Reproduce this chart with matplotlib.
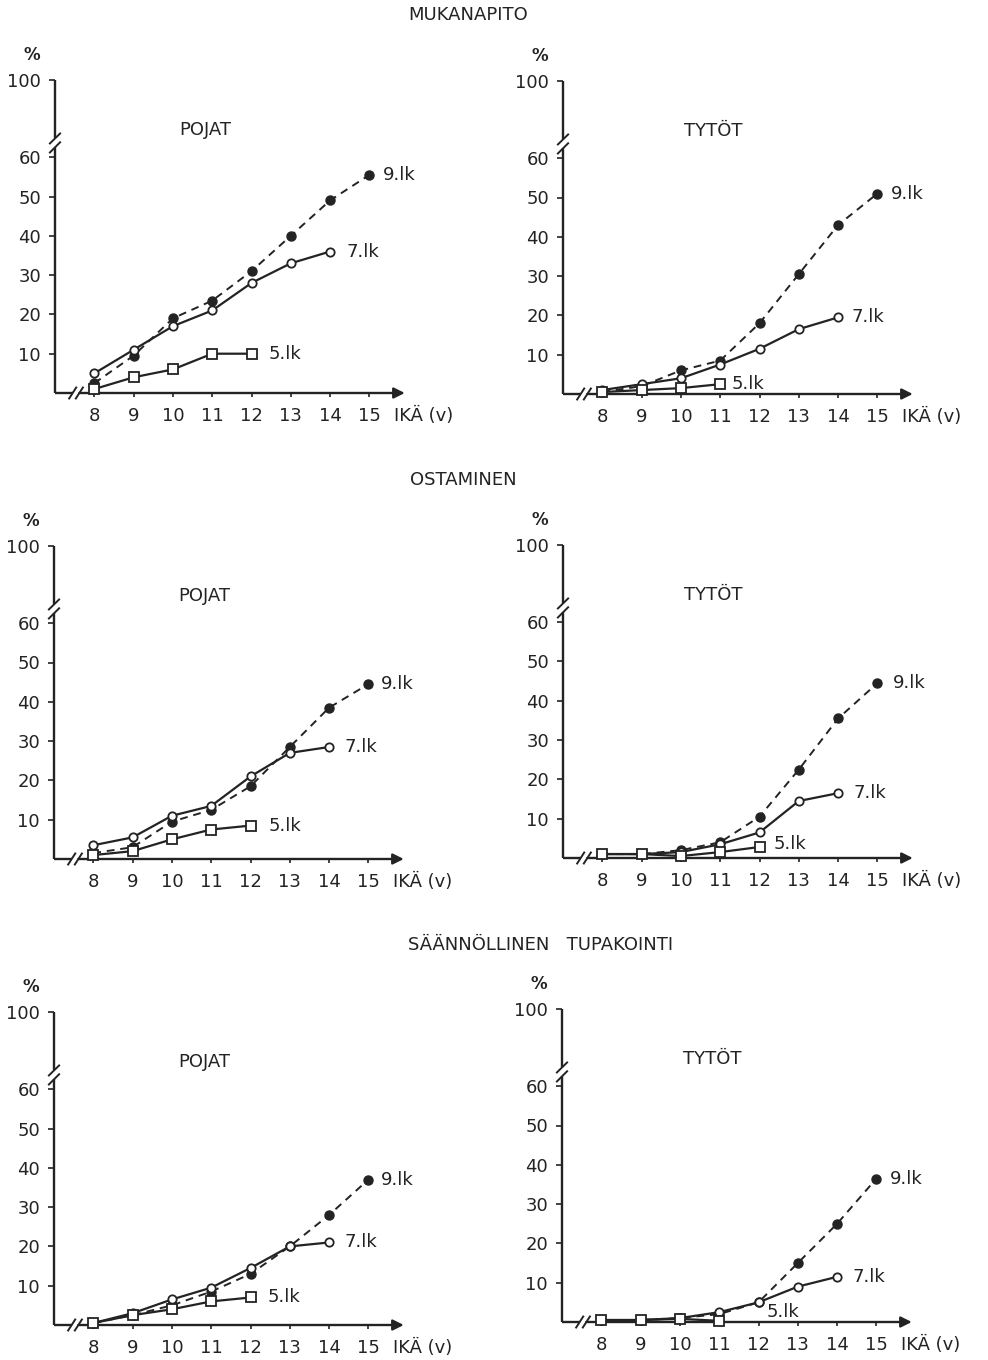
import numpy as np
import matplotlib
matplotlib.use('Agg')
import matplotlib.pyplot as plt

plt.rcParams['font.family'] = ['DejaVu Sans']

# ---------------- data ----------------
ages_9lk = [8, 9, 10, 11, 12, 13, 14, 15]
ages_7lk = [8, 9, 10, 11, 12, 13, 14]
ages_5lk = [8, 9, 10, 11, 12]
ages_5lk_short = [8, 9, 10, 11]

mukanapito_pojat_9 = [2.5, 9.5, 19, 23.5, 31, 40, 49, 55.5]
mukanapito_pojat_7 = [5, 11, 17, 21, 28, 33, 36]
mukanapito_pojat_5 = [1, 4, 6, 10, 10]

mukanapito_tytot_9 = [0.5, 2, 6, 8.5, 18, 30.5, 43, 51]
mukanapito_tytot_7 = [1, 2.5, 4, 7.5, 11.5, 16.5, 19.5]
mukanapito_tytot_5 = [0.5, 1, 1.5, 2.5]

ostaminen_pojat_9 = [1.5, 3, 9.5, 12.5, 18.5, 28.5, 38.5, 44.5]
ostaminen_pojat_7 = [3.5, 5.5, 11, 13.5, 21, 27, 28.5]
ostaminen_pojat_5 = [1, 2, 5, 7.5, 8.5]

ostaminen_tytot_9 = [1, 1, 2, 4, 10.5, 22.5, 35.5, 44.5]
ostaminen_tytot_7 = [1, 1, 1.5, 3.5, 6.5, 14.5, 16.5]
ostaminen_tytot_5 = [1, 1, 0.5, 1.5, 2.8]

tupakointi_pojat_9 = [0.5, 2.5, 5, 8.5, 13, 20, 28, 37]
tupakointi_pojat_7 = [0.5, 3, 6.5, 9.5, 14.5, 20, 21]
tupakointi_pojat_5 = [0.5, 2.5, 4, 6, 7]

tupakointi_tytot_9 = [0.5, 0.5, 1, 2, 5, 15, 25, 36.5]
tupakointi_tytot_7 = [0.5, 0.5, 1, 2.5, 5, 9, 11.5]
tupakointi_tytot_5 = [0.5, 0.5, 0.8, 0.3]

section_titles = ['MUKANAPITO', 'OSTAMINEN', 'SÄÄNNÖLLINEN   TUPAKOINTI']
panel_titles = ['POJAT', 'TYTÖT']
series_labels = ['9.lk', '7.lk', '5.lk']
y_ticks = [10, 20, 30, 40, 50, 60, 100]
y_ticklabels = ['10', '20', '30', '40', '50', '60', '100']
x_ticks = [8, 9, 10, 11, 12, 13, 14, 15]
x_label = 'IKÄ (v)'

panels = [
    [(ages_9lk, mukanapito_pojat_9), (ages_7lk, mukanapito_pojat_7), (ages_5lk, mukanapito_pojat_5)],
    [(ages_9lk, mukanapito_tytot_9), (ages_7lk, mukanapito_tytot_7), (ages_5lk_short, mukanapito_tytot_5)],
    [(ages_9lk, ostaminen_pojat_9), (ages_7lk, ostaminen_pojat_7), (ages_5lk, ostaminen_pojat_5)],
    [(ages_9lk, ostaminen_tytot_9), (ages_7lk, ostaminen_tytot_7), (ages_5lk, ostaminen_tytot_5)],
    [(ages_9lk, tupakointi_pojat_9), (ages_7lk, tupakointi_pojat_7), (ages_5lk, tupakointi_pojat_5)],
    [(ages_9lk, tupakointi_tytot_9), (ages_7lk, tupakointi_tytot_7), (ages_5lk_short, tupakointi_tytot_5)],
]

# ---------------- layout / style ----------------
W, H = 988, 1360
INK = '#232323'
origins = [(55, 393), (563, 394), (54, 859), (563, 858), (54, 1325), (562, 1322)]
PX_X = 39.3      # px per year
PX_Y = 3.93      # px per percent
XL, XR = 7.0, 16.3
BRK, SQ = 66.0, 0.4


def fwd(y):
    y = np.asarray(y, dtype=float)
    return np.where(y <= BRK, y, BRK + (y - BRK) * SQ)


def inv(t):
    t = np.asarray(t, dtype=float)
    return np.where(t <= BRK, t, BRK + (t - BRK) / SQ)


ax_w = (XR - XL) * PX_X
ax_h = float(fwd(100)) * PX_Y

styles = [
    dict(ls=(0, (4, 3)), marker='o', mfc=INK, mec=INK, ms=6.5, lw=1.4),
    dict(ls='-', marker='o', mfc='white', mec=INK, ms=6, lw=1.6, mew=1.3),
    dict(ls='-', marker='s', mfc='white', mec=INK, ms=7, lw=1.6, mew=1.3),
]
# label offsets in points (dx, dy) relative to last point of each series
label_offsets = [
    [(10, 0), (12, 0), (12, 0)],
    [(10, 0), (10, 0), (8, 0)],
    [(9, 0), (11, 0), (13, 0)],
    [(11, 0), (11, 0), (10, 2)],
    [(9, 0), (11, 0), (12, 0)],
    [(10, 0), (11, 0), (34, 6)],
]

fig = plt.figure(figsize=(W / 100, H / 100), dpi=100)
fig.patch.set_facecolor('white')

for i, (series, (ox, oy)) in enumerate(zip(panels, origins)):
    ax = fig.add_axes([ox / W, (H - oy) / H, ax_w / W, ax_h / H])
    ax.set_yscale('function', functions=(fwd, inv))
    ax.set_xlim(XL, XR)
    ax.set_ylim(0, 100)
    ax.patch.set_alpha(0)
    for sp in ax.spines.values():
        sp.set_visible(False)
    ax.set_yticks(y_ticks)
    ax.set_yticklabels(y_ticklabels)
    ax.yaxis.set_minor_locator(matplotlib.ticker.NullLocator())
    ax.set_xticks(x_ticks)
    ax.set_xticklabels([str(v) for v in x_ticks])
    ax.tick_params(axis='y', direction='out', length=4, width=1.2, pad=6,
                   labelsize=13, colors=INK)
    ax.tick_params(axis='x', direction='out', length=3, width=1.2, pad=7,
                   labelsize=13, colors=INK)

    lk = dict(color=INK, lw=1.7, clip_on=False, solid_capstyle='butt')
    # y axis with break
    ax.plot([XL, XL], [0, 62.5], **lk)
    ax.plot([XL, XL], [64.8, 100], **lk)
    for c in (62.5, 64.8):
        ax.plot([XL - 0.13, XL + 0.13], [c - 1.3, c + 1.3], color=INK, lw=1.4, clip_on=False)
    # x axis with break and arrow
    ax.plot([XL, 7.45], [0, 0], **lk)
    for c in (7.45, 7.62):
        ax.plot([c - 0.09, c + 0.09], [-1.4, 1.4], color=INK, lw=1.4, clip_on=False)
    ax.annotate('', xy=(15.9, 0), xytext=(7.62, 0), xycoords='data',
                arrowprops=dict(arrowstyle='-|>', color=INK, lw=1.7,
                                mutation_scale=16, shrinkA=0, shrinkB=0),
                annotation_clip=False)
    ax.annotate(x_label, xy=(15.62, 0), xycoords='data', xytext=(0, -10),
                textcoords='offset points', ha='left', va='top', fontsize=13,
                color=INK, annotation_clip=False)

    ax.text(-23 / ax_w, 338 / ax_h, '%', transform=ax.transAxes,
            ha='center', va='center', fontsize=12, fontweight='bold', color=INK)
    ax.text(0.41, 0.84, panel_titles[i % 2], transform=ax.transAxes,
            ha='center', va='center', fontsize=13, color=INK)

    for j, ((xs, ys), st) in enumerate(zip(series, styles)):
        ax.plot(xs, ys, color=INK, clip_on=False, zorder=3, **st)
        dx, dy = label_offsets[i][j]
        ax.annotate(series_labels[j], xy=(xs[-1], ys[-1]), xytext=(dx, dy),
                    textcoords='offset points', ha='left', va='center',
                    fontsize=13, color=INK, annotation_clip=False)

for title, (cx, cy) in zip(section_titles, [(468, 15), (463, 480), (541, 945)]):
    fig.text(cx / W, 1 - cy / H, title, ha='center', va='center',
             fontsize=13, color=INK)

fig.savefig('out.png', dpi=100, facecolor='white')
